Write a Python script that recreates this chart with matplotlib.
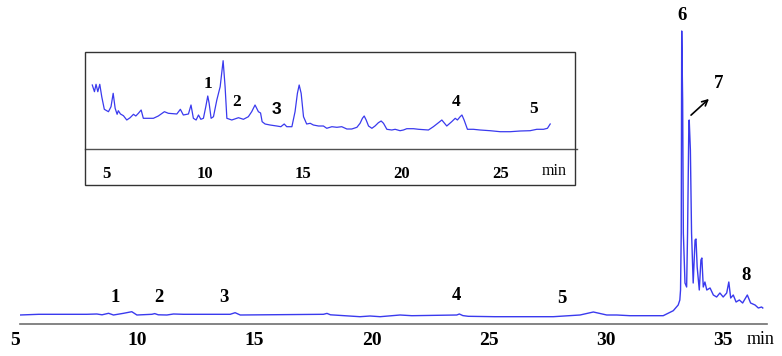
import matplotlib
matplotlib.use("Agg")
import matplotlib.pyplot as plt
from matplotlib.patches import Rectangle

# main chromatogram (time in min, detector signal in arbitrary units)
main_t = [5.0, 5.8, 7.85, 8.28, 8.5, 8.78, 8.99, 9.42, 9.77, 9.99, 10.63, 10.75, 10.9,
          11.27, 11.55, 11.98, 13.97, 14.18, 14.40, 17.95, 18.1, 18.25, 19.51, 19.94,
          20.37, 21.22, 21.72, 23.64, 23.75, 23.9, 24.13, 25.27, 27.76, 28.90, 29.47,
          30.04, 30.47, 31.03, 32.45, 32.88, 33.09, 33.16, 33.19, 33.22, 33.24, 33.28,
          33.31, 33.38, 33.45, 33.49, 33.54, 33.56, 33.61, 33.66, 33.73, 33.81, 33.85,
          33.90, 33.99, 34.06, 34.10, 34.16, 34.23, 34.31, 34.45, 34.59, 34.73, 34.87,
          35.01, 35.16, 35.25, 35.33, 35.44, 35.56, 35.70, 35.84, 36.04, 36.18, 36.37,
          36.51, 36.65, 36.70]
main_s = [2, 2.7, 2.7, 3, 2.2, 3.7, 2, 3.7, 5.3, 2, 2.7, 3.4, 2.2,
          2, 3, 2.7, 2.7, 4.3, 2, 2.7, 3.6, 2.2, 0.3, 1,
          0.3, 2, 1.3, 2, 3, 1.4, 0.7, 0.3, 0.3, 2, 5,
          2, 2, 1.3, 1.3, 6.3, 12, 17, 27, 84, 286, 217,
          84, 34, 30, 84, 184, 197, 167, 84, 34, 77, 78,
          50, 27, 57, 59, 30, 35, 27, 29, 22, 20, 24,
          20, 24, 35, 19, 22, 15, 17, 14, 22, 14, 12,
          9, 10, 9]

# inset (expanded view of 4-28 min)
ins_t = [4.30, 4.41, 4.49, 4.58, 4.68, 4.78, 4.91, 5.12, 5.25, 5.36, 5.46, 5.56, 5.62,
         5.73, 5.88, 6.05, 6.22, 6.39, 6.51, 6.64, 6.78, 6.89, 7.40, 7.65, 7.96, 8.16,
         8.59, 8.77, 8.92, 9.18, 9.31, 9.43, 9.57, 9.69, 9.81, 9.94, 10.06, 10.16, 10.23,
         10.33, 10.45, 10.62, 10.79, 10.94, 11.04, 11.13, 11.38, 11.72, 11.97, 12.22,
         12.39, 12.56, 12.73, 12.84, 12.92, 13.07, 13.32, 13.66, 13.87, 14.04, 14.17,
         14.43, 14.59, 14.71, 14.80, 14.90, 15.02, 15.18, 15.36, 15.52, 15.78, 16.03,
         16.20, 16.46, 16.71, 16.96, 17.22, 17.47, 17.73, 17.89, 18.01, 18.10, 18.20,
         18.32, 18.49, 18.65, 18.82, 18.96, 19.08, 19.25, 19.50, 19.67, 19.92, 20.09,
         20.26, 20.60, 20.86, 21.36, 21.61, 21.87, 22.04, 22.29, 22.54, 22.72, 22.83,
         22.97, 23.06, 23.17, 23.34, 23.64, 23.98, 24.49, 25.0, 25.51, 26.02, 26.52,
         26.86, 27.20, 27.40, 27.54]
ins_s = [64, 57.3, 64.7, 57.3, 64.7, 52.3, 39.7, 37.3, 42.3, 55.7, 40.7, 34.7, 38.3,
         35, 33.3, 29, 31.3, 34.7, 33, 35.7, 39, 30.7, 30.7, 33, 37.3, 35.7,
         35, 39.7, 34, 35, 44, 30.7, 29, 34, 29.7, 30.7, 42.3, 53, 45.7,
         30.7, 32.3, 49, 62.3, 88.3, 62.3, 30.7, 29, 31.3, 29.7, 32.3,
         37.3, 44, 37.3, 36, 27.3, 25, 24, 23, 22.3, 25, 22.3,
         22.3, 37.3, 55.7, 64, 55.7, 32.3, 25, 25.7, 24, 23, 23,
         20.7, 22.3, 21.7, 22.3, 20, 20, 21.7, 25.7, 30.7, 33, 29,
         23, 20.7, 23, 26.3, 28, 25.7, 19.7, 19, 19.7, 18.3, 19,
         20.3, 20.3, 19.7, 19, 22.3, 26.3, 29, 23, 27.3, 30.7, 29,
         32.3, 34, 29, 19.7, 19.7, 19, 18.3, 17.3, 17.3, 18, 18.3,
         19.7, 19.7, 20.7, 25]

ticks_main = [5, 10, 15, 20, 25, 30, 35]
ticks_inset = [5, 10, 15, 20, 25]

main_labels = ["1", "2", "3", "4", "5", "6", "7", "8"]
main_label_t = [9.06, 10.92, 13.71, 23.61, 28.12, 33.24, 34.83, 35.98]
main_label_s = [19, 19, 19, 21, 18.7, 302, 234, 41]

ins_labels = ["1", "2", "3", "4", "5"]
ins_label_t = [10.16, 11.63, 13.66, 22.77, 26.69]
ins_label_s = [64.7, 47.3, 39, 47.3, 40]

W, H = 782, 356
blue = "#3a3aee"
serif = "Liberation Serif"


def fr(x0, y0, x1, y1):
    return [x0 / W, 1 - y1 / H, (x1 - x0) / W, (y1 - y0) / H]


fig = plt.figure(figsize=(W / 100, H / 100), dpi=100)

ax = fig.add_axes(fr(20, 0, 767, 324))
ax.plot(main_t, main_s, color=blue, lw=1.0)
ax.set_xlim(5.0, 36.88)
ax.set_ylim(-7, 317)
for s in ["top", "left", "right"]:
    ax.spines[s].set_visible(False)
ax.spines["bottom"].set_color("#707070")
ax.spines["bottom"].set_linewidth(1.2)
ax.set_yticks([])
ax.set_xticks(ticks_main)
ax.set_xticklabels([str(t) for t in ticks_main], fontfamily=serif,
                   fontweight="bold", fontsize=14)
ax.get_xticklabels()[0].set_horizontalalignment("right")
ax.tick_params(axis="x", length=0, pad=6)
for lab, t, s in zip(main_labels, main_label_t, main_label_s):
    ax.text(t, s, lab, ha="center", va="center", fontfamily=serif,
            fontweight="bold", fontsize=13.5)
ax.annotate("", xy=(34.49, 220), xytext=(33.55, 200),
            arrowprops=dict(arrowstyle="->", color="black", lw=1.2))
fig.text(761 / W, 1 - 340 / H, "min", ha="center", va="center",
         fontfamily=serif, fontsize=13)

# inset
axi = fig.add_axes(fr(85, 52, 577, 149))
axi.patch.set_alpha(0)
axi.plot(ins_t, ins_s, color=blue, lw=0.9)
axi.set_xlim(3.93, 28.9)
axi.set_ylim(0, 97)
for s in ["top", "left", "right"]:
    axi.spines[s].set_visible(False)
axi.spines["bottom"].set_color("#505050")
axi.spines["bottom"].set_linewidth(1.0)
axi.set_yticks([])
axi.set_xticks(ticks_inset)
axi.set_xticklabels([str(t) for t in ticks_inset], fontfamily=serif,
                    fontweight="bold", fontsize=12)
axi.tick_params(axis="x", length=0, pad=12)
for lab, t, s in zip(ins_labels, ins_label_t, ins_label_s):
    fam = "Liberation Sans" if lab == "3" else serif
    axi.text(t, s, lab, ha="center", va="center", fontfamily=fam,
             fontweight="bold", fontsize=12.5)
fig.text(554 / W, 1 - 171 / H, "min", ha="center", va="center",
         fontfamily=serif, fontsize=11.5)
fig.patches.append(Rectangle((85 / W, 1 - 185 / H), 490 / W, 133 / H,
                             transform=fig.transFigure, fill=False,
                             lw=1.0, ec="#333333"))

fig.savefig("out.png", dpi=100)
